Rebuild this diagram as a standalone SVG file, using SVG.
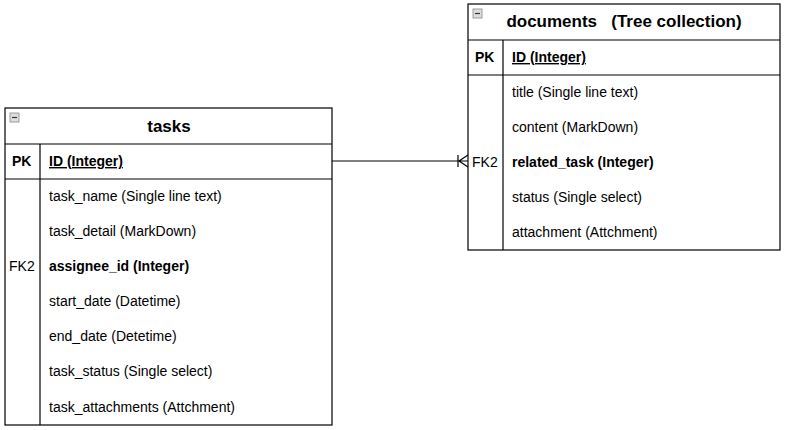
<svg xmlns="http://www.w3.org/2000/svg" width="800" height="430" viewBox="0 0 800 430">
<style>
.b{fill:#fff;stroke:#000;stroke-width:1.2}
.t{font-family:"Liberation Sans",Arial,sans-serif;font-size:14px;fill:#000}
.h{font-family:"Liberation Sans",Arial,sans-serif;font-size:17px;font-weight:bold}
.k{font-weight:bold}
.l{stroke:#000;stroke-width:1.2;fill:none}
</style>
<defs>
<g id="ic"><rect x="0" y="0" width="9" height="9" fill="#ddd" stroke="#888" stroke-width="0.8"/><line x1="2" y1="4.5" x2="7" y2="4.5" stroke="#333" stroke-width="1.2"/></g>
</defs>
<g id="tasks">
<rect class="b" x="5" y="108" width="327" height="317"/>
<line class="l" x1="5" y1="144" x2="332" y2="144"/>
<line class="l" x1="5" y1="179" x2="332" y2="179"/>
<line class="l" x1="40" y1="144" x2="40" y2="425"/>
<use href="#ic" x="10" y="113"/>
<text class="h" x="169" y="132" text-anchor="middle">tasks</text>
<text class="t k" x="12" y="166">PK</text>
<text class="t k" x="49" y="166" text-decoration="underline">ID (Integer)</text>
<text class="t" x="49" y="201">task_name (Single line text)</text>
<text class="t" x="49" y="236">task_detail (MarkDown)</text>
<text class="t" x="9" y="271">FK2</text>
<text class="t k" x="49" y="271">assignee_id (Integer)</text>
<text class="t" x="49" y="306">start_date (Datetime)</text>
<text class="t" x="49" y="341">end_date (Detetime)</text>
<text class="t" x="49" y="376">task_status (Single select)</text>
<text class="t" x="49" y="412">task_attachments (Attchment)</text>
</g>
<g id="documents">
<rect class="b" x="468" y="4" width="312" height="246"/>
<line class="l" x1="468" y1="40" x2="780" y2="40"/>
<line class="l" x1="468" y1="75" x2="780" y2="75"/>
<line class="l" x1="503" y1="40" x2="503" y2="250"/>
<use href="#ic" x="473" y="9"/>
<text class="h" x="624" y="27" text-anchor="middle" xml:space="preserve">documents   (Tree collection)</text>
<text class="t k" x="475" y="62">PK</text>
<text class="t k" x="512" y="62" text-decoration="underline">ID (Integer)</text>
<text class="t" x="512" y="97">title (Single line text)</text>
<text class="t" x="512" y="132">content (MarkDown)</text>
<text class="t" x="472" y="167">FK2</text>
<text class="t k" x="512" y="167">related_task (Integer)</text>
<text class="t" x="512" y="202">status (Single select)</text>
<text class="t" x="512" y="237">attachment (Attchment)</text>
</g>
<g id="connectors">
<path class="l" d="M332 161 H468 M468 155 L459 161 L468 167 M458 155 V167"/>
</g>
</svg>
